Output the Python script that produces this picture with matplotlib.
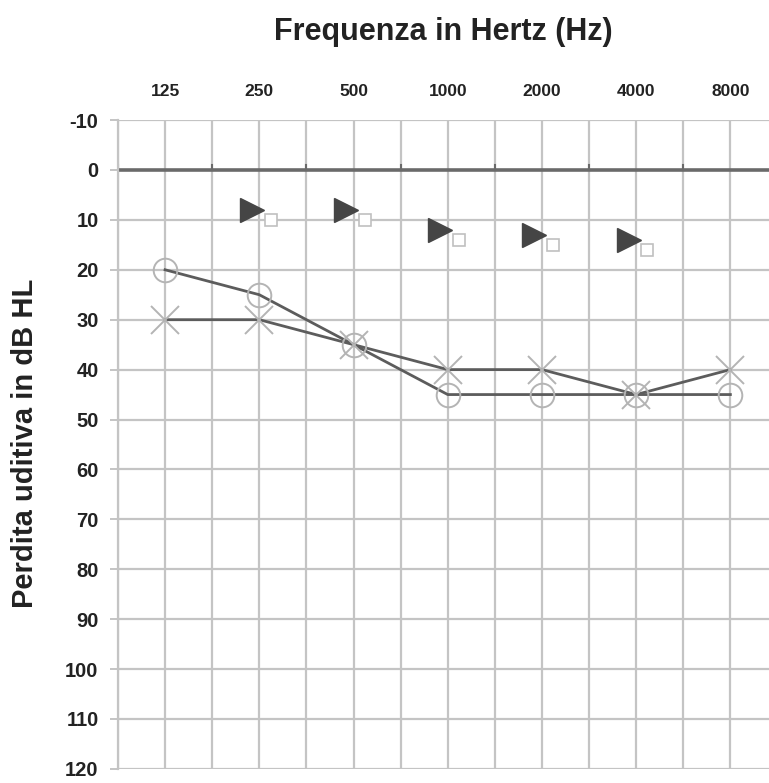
import numpy as np
from matplotlib import pyplot as plt

freqs = [125, 250, 500, 1000, 2000, 4000, 8000]
freq_labels = ["125", "250", "500", "1000", "2000", "4000", "8000"]

# via aerea orecchio destro (O) e sinistro (X)
right_ear = [20, 25, 35, 45, 45, 45, 45]
left_ear = [30, 30, 35, 40, 40, 45, 40]

# via ossea
bone_freqs = [250, 500, 1000, 2000, 4000]
bone_tri = [8, 8, 12, 13, 14]
bone_sq = [10, 10, 14, 15, 16]

db_ticks = list(range(-10, 121, 10))

plt.rcParams['font.family'] = ['Liberation Sans', 'DejaVu Sans']


def octave(f):
    return np.log2(np.asarray(f, dtype=float) / 125.0)


fig = plt.figure(figsize=(7.69, 7.83), dpi=100)
ax = fig.add_axes([0.1534, 0.018, 0.8466, 0.8287])

ax.set_xlim(-0.5, 6.41)
ax.set_ylim(120, -10)

grid_col = "#c4c4c4"
for v in np.arange(-0.5, 6.6, 0.5):
    ax.axvline(v, color=grid_col, lw=1.6, zorder=1)
for d in db_ticks:
    if d != 0:
        ax.axhline(d, color=grid_col, lw=1.6, zorder=1)
ax.axhline(0, color="#6a6a6a", lw=2.6, zorder=2)
for v in np.arange(-0.5, 6.0, 1.0):
    ax.plot([v, v], [0, -0.9], color="#6a6a6a", lw=1.5, zorder=2)

x = octave(freqs)
ax.plot(x, right_ear, color="#5c5c5c", lw=2.0, zorder=3)
ax.plot(x, left_ear, color="#5c5c5c", lw=2.0, zorder=3)
ax.plot(x, right_ear, ls="none", marker="o", ms=17, mfc="none",
        mec="#b4b4b4", mew=1.4, zorder=4)
ax.plot(x, left_ear, ls="none", marker="x", ms=20,
        mec="#b4b4b4", mew=1.4, zorder=4)

bx = octave(bone_freqs)
ax.plot(bx - 0.08, bone_tri, ls="none", marker=">", ms=17,
        color="#454545", zorder=5)
ax.plot(bx + 0.12, bone_sq, ls="none", marker="s", ms=8, mfc="white",
        mec="#c0c0c0", mew=1.2, zorder=5)

for s in ["top", "right", "bottom"]:
    ax.spines[s].set_visible(False)
ax.spines["left"].set_color(grid_col)
ax.spines["left"].set_linewidth(1.6)

ax.set_yticks(db_ticks)
ax.set_yticklabels([str(d) for d in db_ticks], fontsize=14.5, fontweight="bold",
                   color="#222222")
ax.tick_params(axis="y", length=6, color=grid_col, width=1.4, pad=8)

ax.set_xticks(x)
ax.set_xticklabels(freq_labels, fontsize=12.5, fontweight="bold", color="#222222")
ax.xaxis.set_ticks_position("top")
ax.tick_params(axis="x", length=0, pad=15)

fig.text(0.576, 0.959, "Frequenza in Hertz (Hz)", ha="center", va="center",
         fontsize=22, fontweight="bold", color="#222222")
fig.text(0.033, 0.434, "Perdita uditiva in dB HL", ha="center", va="center",
         rotation=90, fontsize=21, fontweight="bold", color="#222222")

fig.savefig("out.png", dpi=100)
